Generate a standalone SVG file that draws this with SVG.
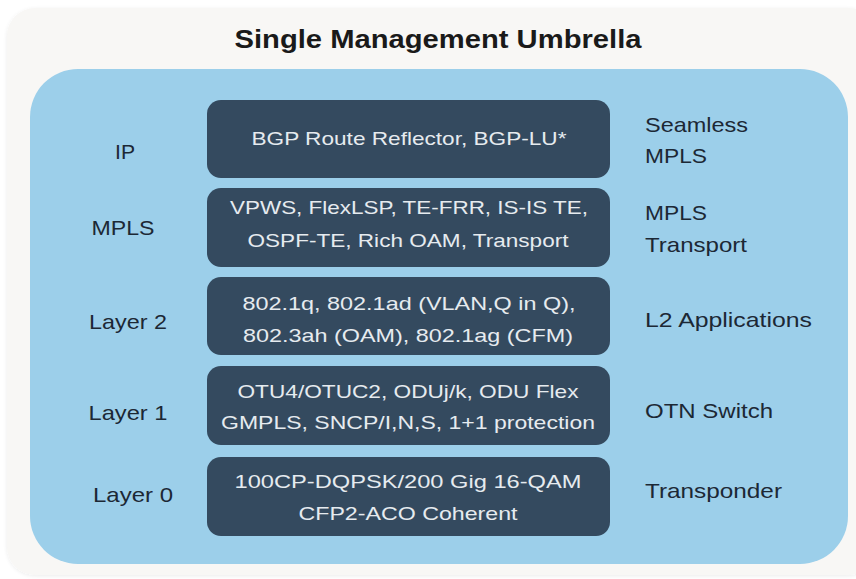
<svg xmlns="http://www.w3.org/2000/svg" width="856" height="579" viewBox="0 0 856 579">
<defs>
<style>
.bg{fill:#f8f7f5}
.panel{fill:#9ccfea}
.box{fill:#344a5f}
.bt{font-family:"Liberation Sans",Arial,sans-serif;font-size:19px;fill:#e6ebef;text-anchor:middle}
.lbl{font-family:"Liberation Sans",Arial,sans-serif;font-size:21px;fill:#1c2835}
.ll{text-anchor:middle}
.title{font-family:"Liberation Sans",Arial,sans-serif;font-size:25px;font-weight:bold;fill:#1a1a1a;text-anchor:middle}
</style>
<filter id="sh" x="-5%" y="-5%" width="110%" height="110%">
<feGaussianBlur in="SourceAlpha" stdDeviation="2"/>
<feOffset dx="0" dy="1"/>
<feComponentTransfer><feFuncA type="linear" slope="0.08"/></feComponentTransfer>
<feMerge><feMergeNode/><feMergeNode in="SourceGraphic"/></feMerge>
</filter>
</defs>
<rect x="0" y="0" width="856" height="579" fill="#ffffff"/>
<rect class="bg" x="7" y="8" width="870" height="567" rx="28" filter="url(#sh)"/>
<text class="title" x="438" y="48" textLength="407" lengthAdjust="spacingAndGlyphs">Single Management Umbrella</text>
<rect class="panel" x="30" y="69" width="818" height="495" rx="48"/>
<g id="connectors"/>
<g id="node-ip">
<rect class="box" x="207" y="100" width="403" height="78" rx="14"/>
<text class="bt" x="409" y="145" textLength="315" lengthAdjust="spacingAndGlyphs">BGP Route Reflector, BGP-LU*</text>
<text class="lbl ll" x="125" y="159" textLength="20" lengthAdjust="spacingAndGlyphs">IP</text>
<text class="lbl" x="645" y="132" textLength="103" lengthAdjust="spacingAndGlyphs">Seamless</text>
<text class="lbl" x="645" y="163" textLength="62" lengthAdjust="spacingAndGlyphs">MPLS</text>
</g>
<g id="node-mpls">
<rect class="box" x="207" y="188" width="403" height="79" rx="14"/>
<text class="bt" x="409" y="214" textLength="358" lengthAdjust="spacingAndGlyphs">VPWS, FlexLSP, TE-FRR, IS-IS TE,</text>
<text class="bt" x="408" y="247" textLength="321" lengthAdjust="spacingAndGlyphs">OSPF-TE, Rich OAM, Transport</text>
<text class="lbl ll" x="123" y="235" textLength="63" lengthAdjust="spacingAndGlyphs">MPLS</text>
<text class="lbl" x="645" y="220" textLength="62" lengthAdjust="spacingAndGlyphs">MPLS</text>
<text class="lbl" x="645" y="252" textLength="102" lengthAdjust="spacingAndGlyphs">Transport</text>
</g>
<g id="node-layer2">
<rect class="box" x="207" y="277" width="403" height="78" rx="14"/>
<text class="bt" x="409" y="310" textLength="333" lengthAdjust="spacingAndGlyphs">802.1q, 802.1ad (VLAN,Q in Q),</text>
<text class="bt" x="408" y="342" textLength="330" lengthAdjust="spacingAndGlyphs">802.3ah (OAM), 802.1ag (CFM)</text>
<text class="lbl ll" x="128" y="329" textLength="78" lengthAdjust="spacingAndGlyphs">Layer 2</text>
<text class="lbl" x="645" y="327" textLength="167" lengthAdjust="spacingAndGlyphs">L2 Applications</text>
</g>
<g id="node-layer1">
<rect class="box" x="207" y="366" width="403" height="79" rx="14"/>
<text class="bt" x="408" y="398" textLength="341" lengthAdjust="spacingAndGlyphs">OTU4/OTUC2, ODUj/k, ODU Flex</text>
<text class="bt" x="408" y="429" textLength="374" lengthAdjust="spacingAndGlyphs">GMPLS, SNCP/I,N,S, 1+1 protection</text>
<text class="lbl ll" x="128" y="420" textLength="79" lengthAdjust="spacingAndGlyphs">Layer 1</text>
<text class="lbl" x="645" y="418" textLength="128" lengthAdjust="spacingAndGlyphs">OTN Switch</text>
</g>
<g id="node-layer0">
<rect class="box" x="207" y="457" width="403" height="79" rx="14"/>
<text class="bt" x="408" y="488" textLength="347" lengthAdjust="spacingAndGlyphs">100CP-DQPSK/200 Gig 16-QAM</text>
<text class="bt" x="408" y="520" textLength="219" lengthAdjust="spacingAndGlyphs">CFP2-ACO Coherent</text>
<text class="lbl ll" x="133" y="502" textLength="80" lengthAdjust="spacingAndGlyphs">Layer 0</text>
<text class="lbl" x="645" y="498" textLength="137" lengthAdjust="spacingAndGlyphs">Transponder</text>
</g>
</svg>
